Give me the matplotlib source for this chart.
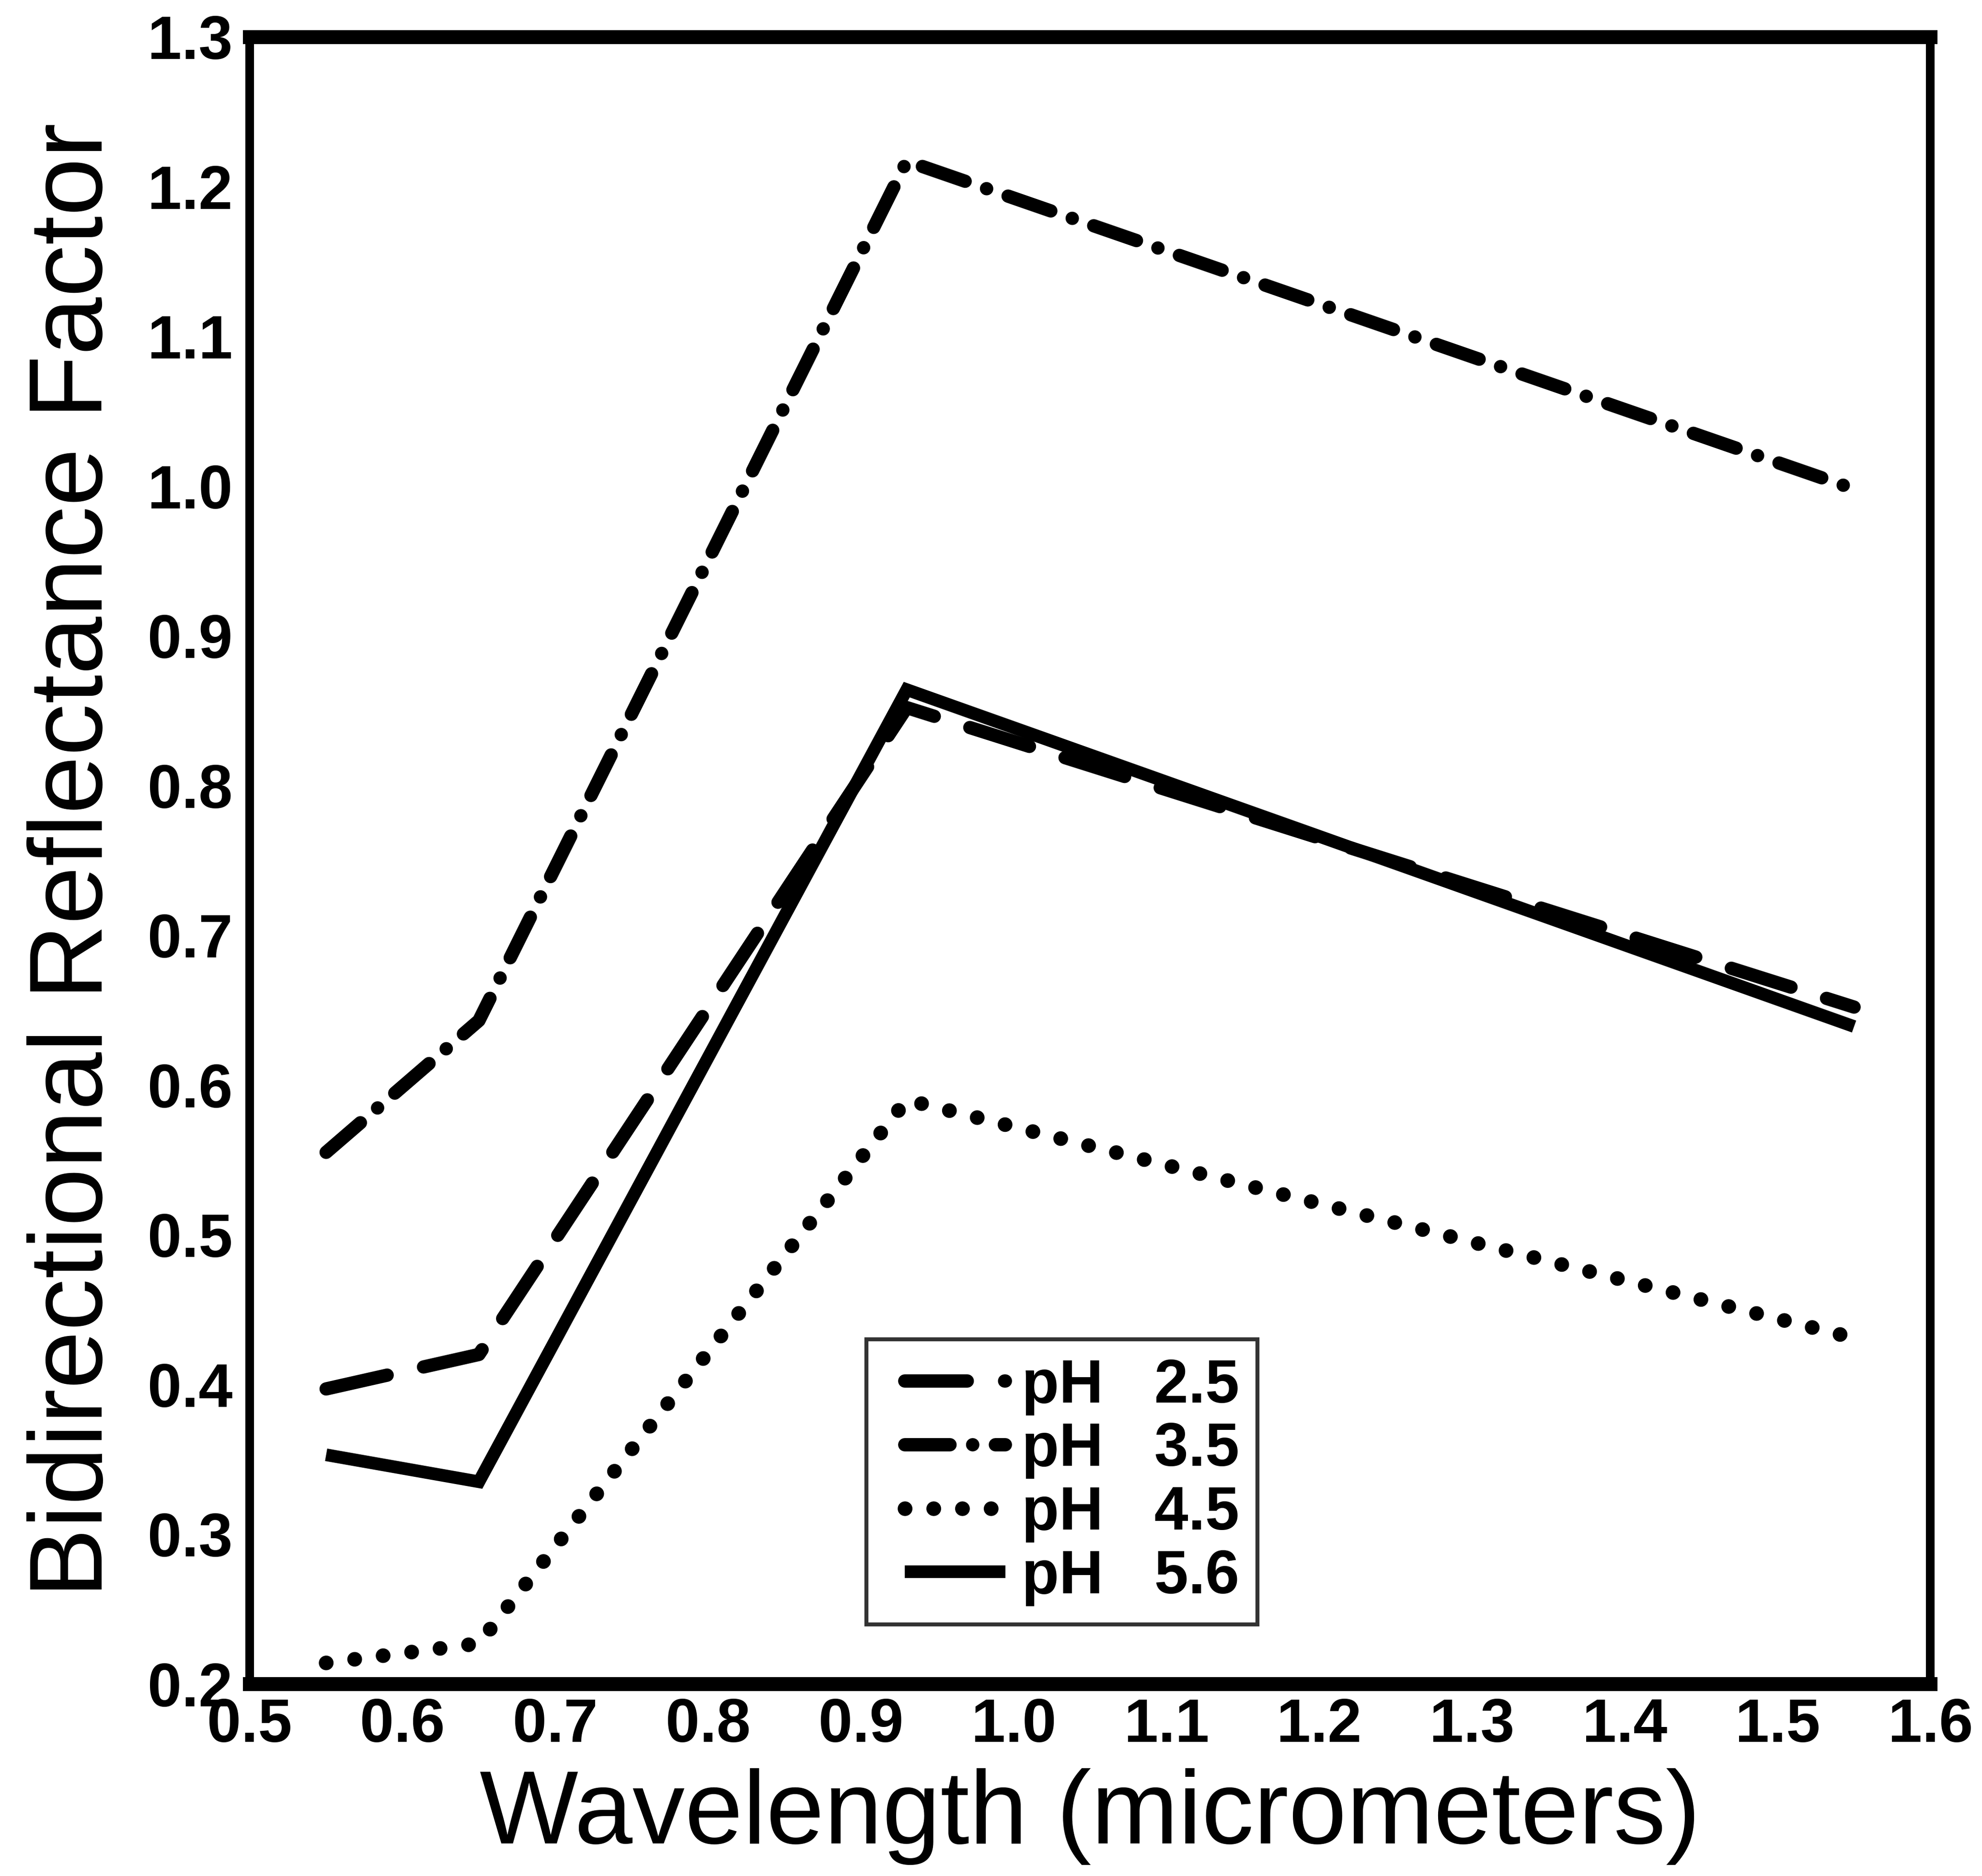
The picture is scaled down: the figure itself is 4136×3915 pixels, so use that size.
import matplotlib
matplotlib.use('Agg')
import matplotlib.pyplot as plt
from matplotlib.legend_handler import HandlerLine2D

# bidirectional reflectance factor at four wavelengths, one series per pH
wavelength = [0.55, 0.65, 0.93, 1.55]
brf_ph25 = [0.397, 0.420, 0.852, 0.652]
brf_ph35 = [0.555, 0.643, 1.217, 0.998]
brf_ph45 = [0.214, 0.227, 0.590, 0.431]
brf_ph56 = [0.353, 0.335, 0.864, 0.639]
series_labels = ['pH   2.5', 'pH   3.5', 'pH   4.5', 'pH   5.6']

xticks = [0.5, 0.6, 0.7, 0.8, 0.9, 1.0, 1.1, 1.2, 1.3, 1.4, 1.5, 1.6]
xtick_labels = ['0.5', '0.6', '0.7', '0.8', '0.9', '1.0', '1.1', '1.2', '1.3', '1.4', '1.5', '1.6']
yticks = [0.2, 0.3, 0.4, 0.5, 0.6, 0.7, 0.8, 0.9, 1.0, 1.1, 1.2, 1.3]
ytick_labels = ['0.2', '0.3', '0.4', '0.5', '0.6', '0.7', '0.8', '0.9', '1.0', '1.1', '1.2', '1.3']

plt.rcParams['font.family'] = ['Liberation Sans', 'DejaVu Sans']

fig = plt.figure(figsize=(41.36, 39.15), dpi=100)
ax = fig.add_axes([0.126, 0.1024, 0.848, 0.878])

ax.plot(wavelength, brf_ph25, color='black', lw=20, dashes=[4.7, 2.8],
        dash_capstyle='round', label=series_labels[0])
ax.plot(wavelength, brf_ph35, color='black', lw=20, dashes=[3.4, 1.7, 0.01, 1.7],
        dash_capstyle='round', label=series_labels[1])
ax.plot(wavelength, brf_ph45, color='black', lw=22, dashes=[0.01, 1.95],
        dash_capstyle='round', label=series_labels[2])
ax.plot(wavelength, brf_ph56, color='black', lw=19, solid_capstyle='butt',
        solid_joinstyle='miter', label=series_labels[3])

ax.set_xlim(0.5, 1.6)
ax.set_ylim(0.2, 1.3)
ax.set_xticks(xticks)
ax.set_xticklabels(xtick_labels, fontweight='bold')
ax.set_yticks(yticks)
ax.set_yticklabels(ytick_labels, fontweight='bold')
ax.tick_params(axis='both', length=0, labelsize=92)
ax.tick_params(axis='x', pad=20)
ax.tick_params(axis='y', pad=26)

ax.spines['top'].set_linewidth(21)
ax.spines['bottom'].set_linewidth(21)
ax.spines['left'].set_linewidth(13)
ax.spines['right'].set_linewidth(13)

ax.set_xlabel('Wavelength (micrometers)', fontsize=157, labelpad=20)
ax.set_ylabel('Bidirectional Reflectance Factor', fontsize=157, labelpad=36)

leg = ax.legend(loc='lower left', bbox_to_anchor=(0.367, 0.036), borderaxespad=0,
                prop={'size': 92, 'weight': 'bold'}, frameon=True, fancybox=False,
                edgecolor='black', handlelength=1.97, handletextpad=0.26,
                borderpad=0.3, labelspacing=0.1,
                handler_map={plt.Line2D: HandlerLine2D(xpad=0.32)})
leg.get_frame().set_linewidth(6)

fig.savefig('out.png', dpi=100, facecolor='white')
